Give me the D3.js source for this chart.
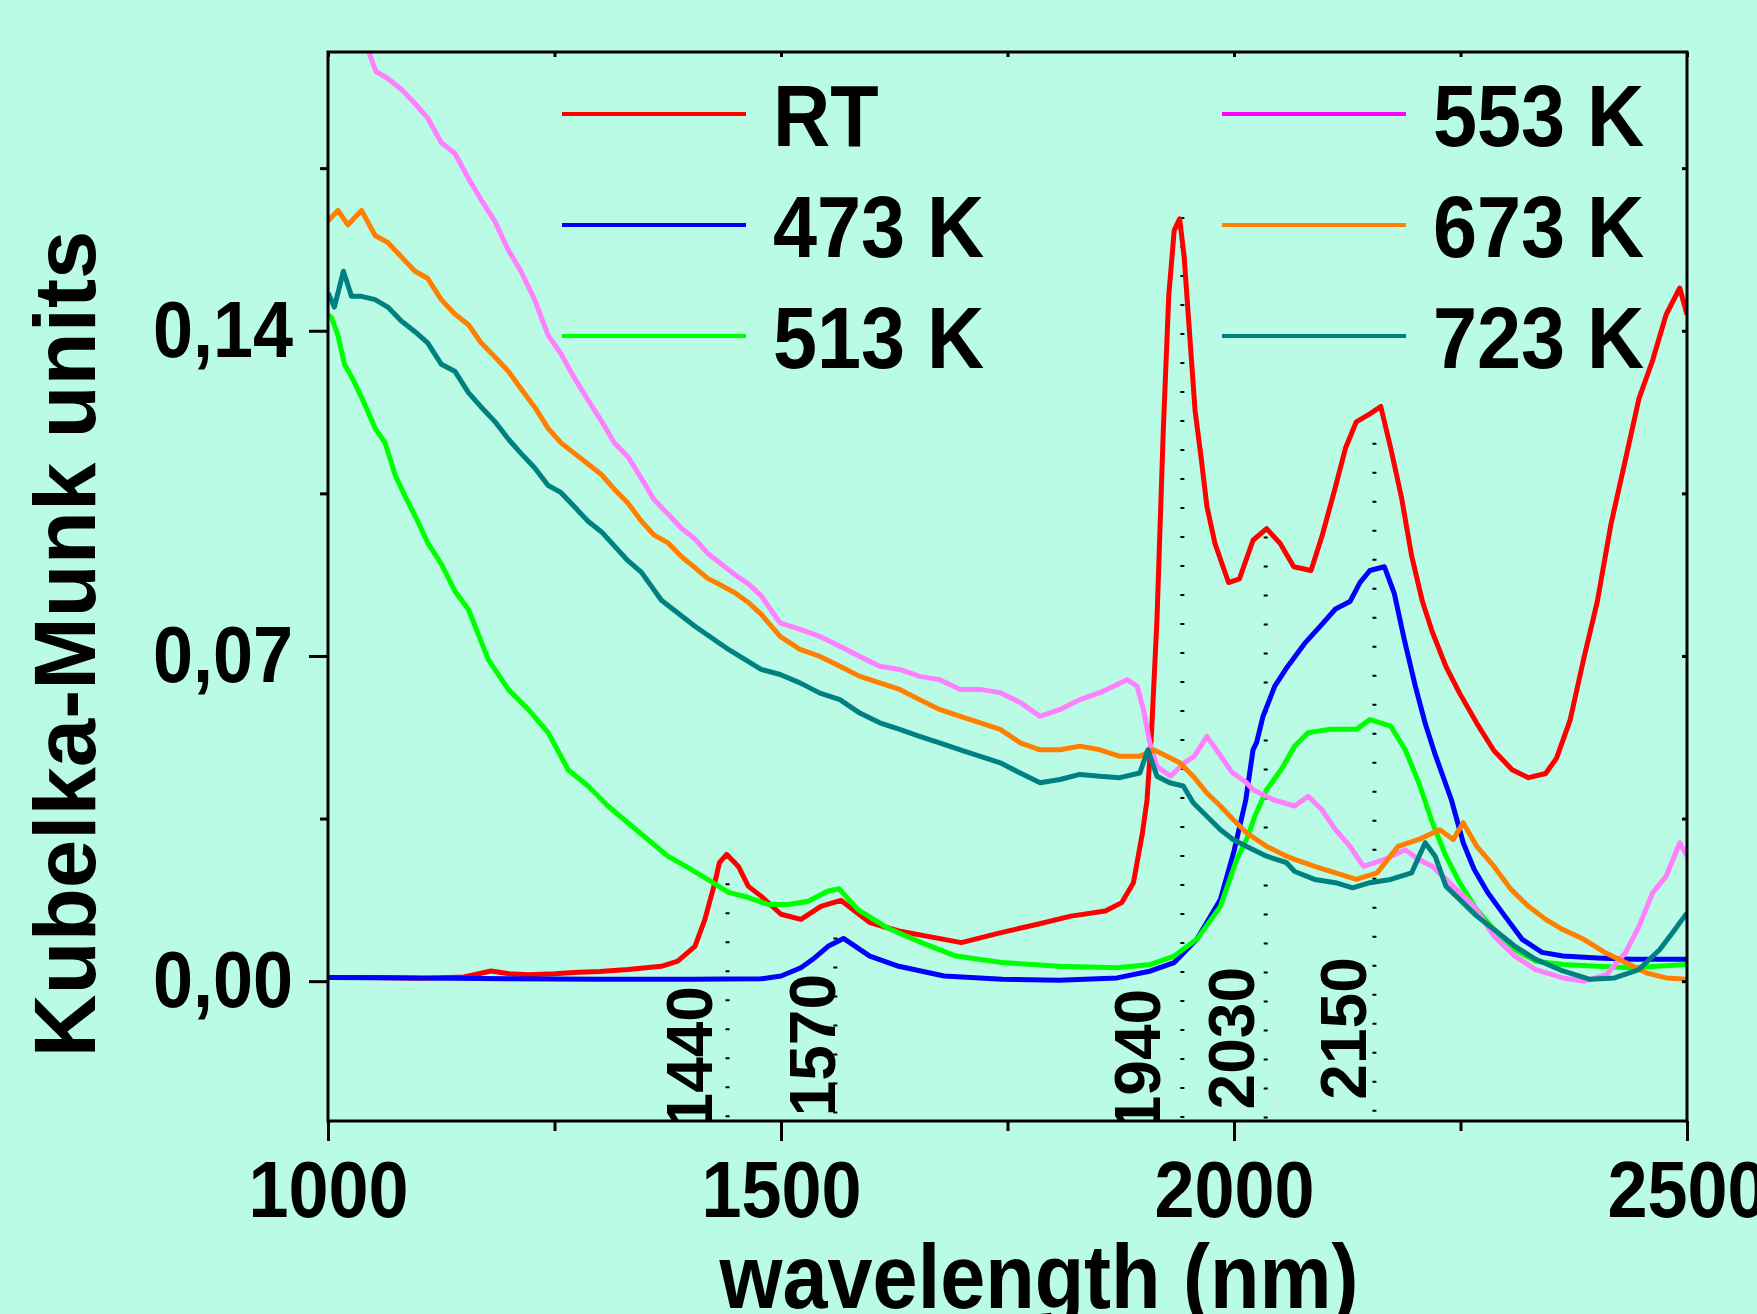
<!DOCTYPE html>
<html>
<head>
<meta charset="utf-8">
<script src="https://cdn.jsdelivr.net/npm/d3@7"></script>
<style>
html,body{margin:0;padding:0;background:#bafbe6;}
svg{display:block;}
text{font-family:"Liberation Sans",Arial,sans-serif;font-weight:bold;fill:#000;}
</style>
</head>
<body>
<svg id="chart" width="1757" height="1314"></svg>
<script>
'use strict';
// spectra, [wavelength nm, Kubelka-Munk]
var rt = [[1000,.0008],[1050,.0008],[1100,.0006],[1150,.0009],[1180,.0022],[1200,.0016],[1221,.0014],[1250,.0016],[1276,.0019],[1300,.0021],[1331,.0025],[1368,.0032],[1386,.0043],[1405,.0075],[1416,.0133],[1427,.0212],[1432,.0255],[1440,.0273],[1453,.0247],[1464,.0204],[1478,.0183],[1500,.0144],[1522,.0133],[1544,.0161],[1566,.0174],[1598,.0126],[1630,.0108],[1680,.009],[1699,.0083],[1744,.0105],[1782,.0122],[1820,.014],[1858,.0151],[1876,.0169],[1889,.0212],[1899,.032],[1904,.039],[1909,.0535],[1915,.078],[1922,.1188],[1928,.1476],[1934,.1616],[1940,.1641],[1945,.1559],[1951,.1393],[1957,.1229],[1964,.1122],[1970,.1023],[1979,.0942],[1994,.0858],[2006,.0866],[2021,.0949],[2036,.0974],[2051,.0942],[2066,.0892],[2085,.0884],[2097,.0957],[2112,.1064],[2123,.1147],[2135,.1204],[2150,.1221],[2162,.1237],[2173,.1147],[2185,.104],[2196,.0916],[2208,.0817],[2219,.0751],[2234,.0677],[2249,.062],[2268,.0555],[2287,.0496],[2307,.0455],[2325,.0438],[2344,.0447],[2356,.048],[2371,.0562],[2386,.0694],[2401,.0817],[2416,.0983],[2432,.1122],[2447,.1254],[2462,.1336],[2477,.1435],[2492,.1492],[2500,.1435]];
var k473 = [[1000,.0008],[1100,.0007],[1200,.0005],[1300,.0004],[1400,.0004],[1478,.0005],[1500,.0011],[1522,.0029],[1537,.005],[1552,.0075],[1569,.0092],[1598,.0054],[1630,.0032],[1680,.0011],[1744,.0004],[1807,.0002],[1871,.0007],[1908,.0022],[1934,.004],[1959,.009],[1985,.0176],[2000,.028],[2013,.039],[2021,.0498],[2025,.0514],[2032,.057],[2045,.0635],[2059,.0677],[2078,.0727],[2097,.0768],[2112,.0801],[2128,.0817],[2139,.0858],[2150,.0884],[2166,.0892],[2177,.0834],[2188,.0735],[2200,.0636],[2211,.0555],[2222,.0488],[2240,.039],[2253,.0298],[2265,.0241],[2280,.0191],[2299,.014],[2318,.009],[2340,.0062],[2363,.0054],[2401,.005],[2439,.0047],[2500,.0047]];
var k513 = [[1000,.1435],[1004,.1428],[1011,.139],[1018,.1329],[1029,.129],[1040,.1244],[1052,.119],[1063,.1159],[1074,.109],[1085,.1044],[1099,.099],[1110,.0944],[1125,.0898],[1140,.084],[1155,.08],[1177,.0692],[1199,.0628],[1221,.0585],[1243,.0535],[1265,.0455],[1287,.042],[1309,.0377],[1331,.0341],[1353,.0305],[1375,.0269],[1397,.0245],[1419,.0219],[1442,.0191],[1464,.018],[1486,.0165],[1508,.0165],[1530,.0172],[1552,.0194],[1564,.0199],[1585,.0154],[1617,.0115],[1655,.0083],[1693,.0054],[1744,.004],[1807,.0032],[1871,.0029],[1908,.0036],[1934,.0054],[1959,.009],[1985,.0161],[2003,.0262],[2015,.031],[2023,.0355],[2036,.0412],[2052,.0455],[2067,.0506],[2082,.0535],[2105,.0542],[2135,.0542],[2150,.0563],[2173,.0549],[2189,.0498],[2204,.0427],[2219,.0341],[2234,.0269],[2249,.0212],[2268,.0154],[2287,.0111],[2310,.0068],[2333,.0043],[2363,.0036],[2401,.0032],[2439,.0029],[2500,.0036]];
var k553 = [[1000,.1995],[1008,.205],[1030,.206],[1045,.2],[1053,.1958],[1066,.1943],[1081,.192],[1096,.1889],[1110,.1858],[1125,.1805],[1140,.1782],[1155,.1728],[1169,.1682],[1184,.1636],[1199,.1574],[1213,.1528],[1228,.1467],[1243,.139],[1257,.1351],[1272,.1298],[1287,.1251],[1302,.1205],[1316,.1159],[1331,.1129],[1346,.1082],[1360,.1036],[1375,.1006],[1390,.0975],[1405,.0952],[1419,.0921],[1434,.0898],[1449,.0875],[1464,.0855],[1478,.083],[1499,.0771],[1521,.0757],[1543,.0742],[1565,.0721],[1587,.0699],[1609,.0678],[1631,.0671],[1653,.0656],[1675,.0649],[1698,.0628],[1720,.0628],[1742,.0621],[1764,.06],[1786,.057],[1808,.0585],[1830,.0606],[1852,.0621],[1867,.0635],[1882,.0649],[1893,.0635],[1900,.0585],[1907,.0513],[1915,.0462],[1930,.0441],[1945,.047],[1956,.0484],[1970,.0527],[1983,.0491],[1998,.0449],[2014,.0427],[2021,.0412],[2044,.039],[2067,.0377],[2082,.0398],[2097,.0369],[2112,.0326],[2128,.029],[2143,.0247],[2166,.0262],[2189,.0283],[2204,.0262],[2219,.0247],[2242,.0204],[2265,.0161],[2287,.0097],[2310,.0054],[2333,.0025],[2363,.0007],[2387,0],[2411,.0014],[2432,.0061],[2447,.0118],[2462,.019],[2477,.0226],[2492,.0298],[2500,.0269]];
var k673 = [[1000,.1636],[1011,.1659],[1022,.1628],[1037,.1659],[1052,.1605],[1066,.159],[1081,.1559],[1096,.1528],[1110,.1513],[1125,.1467],[1140,.1436],[1155,.1413],[1169,.1374],[1184,.1344],[1199,.1313],[1213,.1275],[1228,.1236],[1243,.119],[1257,.1159],[1272,.1136],[1287,.1113],[1302,.109],[1316,.1059],[1331,.1029],[1346,.099],[1360,.096],[1375,.0944],[1390,.0914],[1405,.089],[1419,.0867],[1434,.0852],[1449,.0836],[1464,.0815],[1478,.079],[1499,.0742],[1521,.0714],[1543,.0699],[1565,.0678],[1587,.0656],[1609,.0642],[1631,.0628],[1653,.0606],[1675,.0585],[1698,.057],[1720,.0556],[1742,.0542],[1764,.0513],[1786,.0498],[1808,.0498],[1830,.0506],[1852,.0498],[1874,.0484],[1896,.0484],[1911,.0498],[1926,.0484],[1940,.047],[1955,.0441],[1970,.0405],[1985,.0377],[1999,.0348],[2014,.0319],[2036,.029],[2058,.0269],[2067,.0262],[2089,.0247],[2112,.0233],[2135,.0219],[2158,.0233],[2181,.029],[2204,.0305],[2227,.0326],[2242,.0305],[2253,.0341],[2268,.029],[2287,.0247],[2306,.0197],[2325,.0161],[2344,.0133],[2363,.0111],[2386,.009],[2410,.0061],[2432,.004],[2455,.0018],[2477,.0007],[2500,.0004]];
var k723 = [[1000,.1482],[1007,.1451],[1017,.1528],[1026,.1474],[1037,.1474],[1052,.1467],[1066,.1451],[1081,.1421],[1096,.1398],[1110,.1374],[1125,.1328],[1140,.1313],[1155,.1267],[1169,.1236],[1184,.1205],[1199,.1167],[1213,.1136],[1228,.1105],[1243,.1067],[1257,.1052],[1272,.1021],[1287,.099],[1302,.0967],[1316,.0937],[1331,.0905],[1346,.088],[1368,.082],[1405,.0764],[1442,.0714],[1478,.0671],[1499,.066],[1521,.0642],[1543,.062],[1565,.0606],[1587,.0577],[1609,.0556],[1631,.0542],[1653,.0527],[1675,.0513],[1698,.0498],[1720,.0484],[1742,.047],[1764,.0448],[1786,.0427],[1808,.0434],[1830,.0445],[1852,.0441],[1874,.0438],[1896,.0448],[1905,.0498],[1915,.0441],[1929,.0427],[1944,.042],[1955,.0384],[1970,.0355],[1985,.0326],[1999,.0305],[2014,.029],[2036,.0269],[2058,.0255],[2067,.0236],[2089,.0219],[2112,.0212],[2131,.0201],[2150,.0212],[2173,.0219],[2196,.0233],[2211,.0298],[2222,.0269],[2234,.0204],[2249,.0176],[2268,.014],[2287,.0111],[2310,.0075],[2333,.0047],[2363,.0022],[2393,.0004],[2420,.0007],[2447,.0025],[2470,.0068],[2484,.0104],[2500,.0147]];

var seriesData = [rt, k473, k513, k553, k673, k723];
var seriesNames = ['RT', '473 K', '513 K', '553 K', '673 K', '723 K'];
var lineColors = ['#ff0000', '#0000ff', '#00ff00', '#ff80ff', '#ff8000', '#008080'];
var keyColors = ['#ff0000', '#0000ff', '#00ff00', '#ff00ff', '#ff8000', '#008080'];

var xTicks = [1000, 1500, 2000, 2500],
	xMinor = [1250, 1750, 2250],
	yTicks = [0, 0.07, 0.14],
	yMinor = [0.035, 0.105, 0.175];

// band markers
var peakAt = [1441, 1560, 1943, 2035, 2155],
	peakTop = [0.0273, 0.0094, 0.1645, 0.0957, 0.1159],
	peakText = ['1440', '1570', '1940', '2030', '2150'],
	peakTextAt = [1424, 1560, 1918, 2022, 2146],
	peakTextFrom = [-0.0317, -0.0291, -0.0323, -0.0276, -0.0255];

var L = 328, R = 1687, T = 52, B = 1121;
var x = d3.scaleLinear().domain([1000, 2500]).range([L, R]);
var y = d3.scaleLinear().domain([-0.0301, 0.2]).range([B, T]);
var comma = function(d){ return d3.format('.2f')(d).replace('.', ','); };

var svg = d3.select('#chart');
svg.append('rect').attr('width', 1757).attr('height', 1314).style('fill', '#bafbe6');

svg.append('clipPath').attr('id', 'plotClip')
	.append('rect').attr('x', L).attr('y', T).attr('width', R - L).attr('height', B - T);

var plot = svg.append('g').attr('clip-path', 'url(#plotClip)');

// dotted band markers + rotated labels
plot.append('g').attr('id', 'markers')
	.selectAll('line')
	.data(peakAt)
	.enter()
	.append('line')
	.attr('x1', (d)=>x(d)).attr('x2', (d)=>x(d))
	.attr('y1', (d,i)=>y(peakTop[i])).attr('y2', B)
	.style('stroke', '#000')
	.style('stroke-width', '4px')
	.style('stroke-dasharray', '2,27');

plot.append('g').attr('id', 'markerText')
	.selectAll('text')
	.data(peakText)
	.enter()
	.append('text')
	.attr('transform', (d,i)=>'translate(' + x(peakTextAt[i]) + ',' + y(peakTextFrom[i]) + ') rotate(-90)')
	.style('font-size', '64px')
	.text((d)=>d);

// spectra
var line = d3.line().x((d)=>x(d[0])).y((d)=>y(d[1]));
plot.append('g').attr('id', 'spectra')
	.selectAll('path')
	.data(seriesData)
	.enter()
	.append('path')
	.attr('d', line)
	.style('fill', 'none')
	.style('stroke', (d,i)=>lineColors[i])
	.style('stroke-width', '5px')
	.style('stroke-linejoin', 'round');

// axes
var styleTicks = function(g){
	g.select('.domain').remove();
	g.selectAll('line').style('stroke', '#000').style('stroke-width', '3px');
};

svg.append('g').attr('transform', 'translate(0,' + B + ')')
	.call(d3.axisBottom(x).tickValues(xTicks).tickSize(20).tickPadding(19).tickFormat(d3.format('d')))
	.call(styleTicks)
	.call(function(g){
		g.selectAll('text').attr('transform', 'scale(0.9,1)')
			.style('font-size', '80px').style('font-family', '"Liberation Sans",Arial,sans-serif').style('font-weight', 'bold');
	});
svg.append('g').attr('transform', 'translate(0,' + B + ')')
	.call(d3.axisBottom(x).tickValues(xMinor).tickSize(10).tickFormat(''))
	.call(styleTicks);
svg.append('g').attr('transform', 'translate(0,' + T + ')')
	.call(d3.axisTop(x).tickValues(xTicks.concat(xMinor)).tickSize(-5).tickFormat(''))
	.call(styleTicks);

svg.append('g').attr('transform', 'translate(' + L + ',0)')
	.call(d3.axisLeft(y).tickValues(yTicks).tickSize(19).tickFormat(comma))
	.call(styleTicks)
	.call(function(g){
		g.selectAll('text').attr('x', -35 / 0.9).attr('transform', 'scale(0.9,1)')
			.style('font-size', '80px').style('font-family', '"Liberation Sans",Arial,sans-serif').style('font-weight', 'bold');
	});
svg.append('g').attr('transform', 'translate(' + L + ',0)')
	.call(d3.axisLeft(y).tickValues(yMinor).tickSize(8).tickFormat(''))
	.call(styleTicks);
svg.append('g').attr('transform', 'translate(' + R + ',0)')
	.call(d3.axisRight(y).tickValues(yTicks.concat(yMinor)).tickSize(-5).tickFormat(''))
	.call(styleTicks);

// frame
svg.append('rect')
	.attr('x', L).attr('y', T).attr('width', R - L).attr('height', B - T)
	.style('fill', 'none').style('stroke', '#000').style('stroke-width', '3px');

// legend, two columns of three
var legend = svg.append('g').attr('id', 'legend')
	.selectAll('g')
	.data(seriesNames)
	.enter()
	.append('g')
	.attr('transform', (d,i)=>'translate(' + (i < 3 ? 0 : 660) + ',' + (114 + (i % 3) * 111) + ')');
legend.append('line')
	.attr('x1', 562).attr('x2', 746)
	.style('stroke', (d,i)=>keyColors[i])
	.style('stroke-width', '4px');
legend.append('text')
	.attr('transform', 'translate(773,32) scale(0.9,1)')
	.style('font-size', '88px')
	.text((d)=>d);

// axis titles
svg.append('text')
	.attr('transform', 'translate(95,644) rotate(-90)')
	.style('font-size', '87px')
	.style('text-anchor', 'middle')
	.text('Kubelka-Munk units');
svg.append('text')
	.attr('transform', 'translate(1039,1308) scale(0.9,1)')
	.style('font-size', '90px')
	.style('text-anchor', 'middle')
	.text('wavelength (nm)');
</script>
</body>
</html>
